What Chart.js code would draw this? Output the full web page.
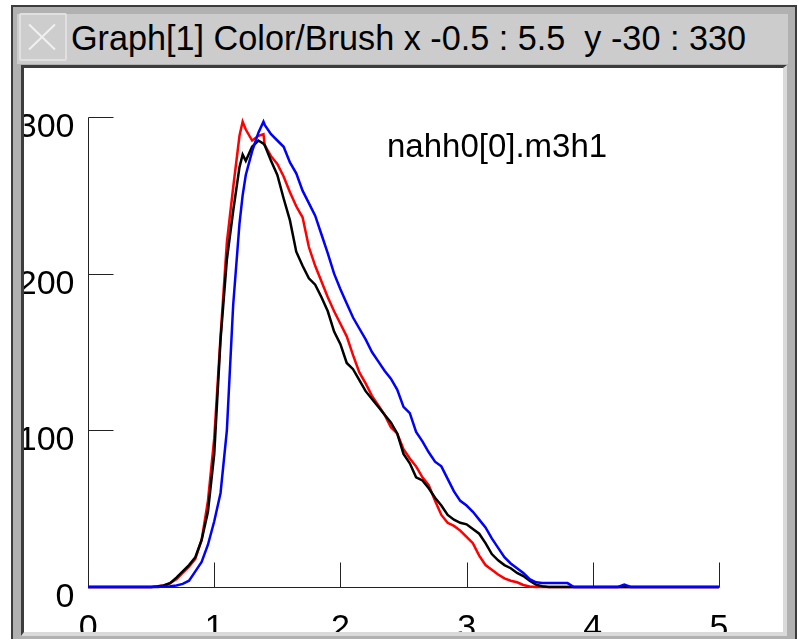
<!DOCTYPE html>
<html>
<head>
<meta charset="utf-8">
<script src="https://cdn.jsdelivr.net/npm/chart.js@4"></script>
<style>
  html, body { margin: 0; padding: 0; background: #ffffff; }
  body { width: 798px; height: 639px; position: relative; overflow: hidden; }
  #frame {
    position: absolute; left: 11px; top: 5px; width: 782px; height: 660px;
    background: #b1b1b1; border: 2px solid #3c3c3c;
  }
  #titlebar {
    position: absolute; left: 17px; top: 14px; width: 771px; height: 50px;
    background: #cccccc;
  }
  #closebox {
    position: absolute; left: 19px; top: 13px; width: 44px; height: 44px;
    background: #cdcdcd; border: 2px solid #e0e0e0; border-radius: 2px;
  }
  .xbar {
    position: absolute; left: 42px; top: 37px; width: 36px; height: 2px;
    margin-left: -18px; margin-top: -1px; background: #f0f0f0;
  }
  #title {
    position: absolute; left: 71px; top: 20px; white-space: nowrap;
    font-family: 'Liberation Sans', Arial, sans-serif;
    font-size: 35px; line-height: 35px; color: #000;
    transform-origin: left top;
  }
  #panel {
    position: absolute; left: 21px; top: 65px; width: 759px; height: 564px;
    border-top: 3px solid #3c3c3c; border-left: 3px solid #3c3c3c;
    border-right: 4px solid #dadada; border-bottom: 4px solid #dadada;
    background: #ffffff; overflow: hidden;
  }
  #chart { position: absolute; left: 0; top: 0; display: block; }
</style>
</head>
<body>
<div id="frame"></div>
<div id="titlebar"></div>
<div id="closebox"></div>
<div class="xbar" style="transform: rotate(44deg)"></div>
<div class="xbar" style="transform: rotate(-44deg)"></div>
<div id="title">Graph[1] Color/Brush x -0.5 : 5.5&nbsp; y -30 : 330</div>
<div id="panel"><canvas id="chart" width="759" height="570"></canvas></div>

<script>
// histogram bins (x = bin position)
const xValues = [
  0, 0.5, 0.55, 0.6, 0.65, 0.7, 0.75, 0.8, 0.85, 0.9,
  0.95, 1.0, 1.05, 1.1, 1.15, 1.2, 1.225, 1.25, 1.3, 1.35,
  1.39, 1.4, 1.45, 1.5, 1.55, 1.6, 1.65, 1.7, 1.75, 1.8,
  1.85, 1.9, 1.95, 2.0, 2.05, 2.1, 2.15, 2.2, 2.25, 2.3,
  2.35, 2.4, 2.45, 2.5, 2.55, 2.6, 2.65, 2.7, 2.75, 2.8,
  2.85, 2.9, 2.95, 3.0, 3.05, 3.1, 3.15, 3.2, 3.25, 3.3,
  3.35, 3.4, 3.45, 3.5, 3.55, 3.6, 3.65, 3.7, 3.75, 3.8,
  3.85, 4.2, 4.25, 4.3, 5
];

const redCounts = [
  0, 0, 0.5, 1, 2.5, 5, 9, 13, 18, 30,
  55, 95, 160, 220, 255, 288, 297, 292, 285, 288,
  289, 282, 275, 270, 262, 252, 243, 236, 217, 205,
  195, 185, 176, 168, 160, 148, 137, 130, 122, 116,
  110, 102, 98, 88, 82, 77, 70, 65, 55, 46,
  41, 39, 36, 32, 28, 20, 14, 11, 8, 5.5,
  4, 3, 1.3, 0.3, 0, 0, 0, 0, 0, 0,
  0, 0, 0, 0, 0
];

const blackCounts = [
  0, 0, 0.3, 1, 2.5, 6, 10, 14, 19, 30,
  48, 85, 158, 209, 240, 268, 276, 272, 281, 285,
  283, 282, 272, 263, 248, 234, 214, 205, 197, 193,
  185, 176, 163, 155, 143, 139, 132, 125, 120, 115,
  110, 105, 98, 85, 79, 70, 68, 63, 57, 52,
  46, 43, 41, 40, 37, 34, 28, 21, 17, 14,
  12, 9, 7, 4, 1.5, 0.5, 0, 0, 0, 0,
  0, 0, 0, 0, 0
];

const blueCounts = [
  0, 0, 0, 0.3, 0.5, 1, 2, 4, 10, 16,
  27, 42, 60, 100, 180, 232, 250, 263, 278, 290,
  297, 295, 289, 285, 281, 271, 264, 253, 245, 237,
  225, 213, 200, 190, 181, 172, 165, 158, 150, 144,
  138, 133, 126, 115, 111, 99, 93, 86, 80, 77,
  69, 61, 55, 52, 48, 43, 38, 31, 25, 19,
  15, 12, 9, 5, 3, 2.5, 2.5, 2.5, 2.5, 2.5,
  0, 0, 1.5, 0, 0
];

const xTicks = [0, 1, 2, 3, 4, 5];
const xTickLabels = ['0', '1', '2', '3', '4', '5'];
const yTicks = [0, 100, 200, 300];
const yTickLabels = ['0', '100', '200', '300'];
const seriesName = 'nahh0[0].m3h1';

// fit the window title to the width it has in the original
(function () {
  const t = document.getElementById('title');
  const w = t.getBoundingClientRect().width;
  t.style.transform = 'scaleX(' + (675 / w) + ')';
})();

function toPoints(ys) {
  return xValues.map(function (x, i) { return { x: x, y: ys[i] }; });
}

// axes drawn only over 0..5 / 0..300, ticks pointing inward
const axesPlugin = {
  id: 'oldAxes',
  beforeDatasetsDraw: function (chart) {
    const ctx = chart.ctx;
    const xs = chart.scales.x;
    const ys = chart.scales.y;
    const x0 = Math.round(xs.getPixelForValue(0)) + 0.5;
    const x5 = Math.round(xs.getPixelForValue(5)) + 0.5;
    const y0 = Math.round(ys.getPixelForValue(0)) + 0.5;
    const yTop = Math.round(ys.getPixelForValue(300)) + 0.5;

    ctx.save();
    ctx.strokeStyle = '#222222';
    ctx.lineWidth = 1;
    ctx.beginPath();
    ctx.moveTo(x0, yTop);
    ctx.lineTo(x0, y0);
    ctx.lineTo(x5, y0);
    yTicks.forEach(function (v) {
      const py = Math.round(ys.getPixelForValue(v)) + 0.5;
      ctx.moveTo(x0, py);
      ctx.lineTo(x0 + 25, py);
    });
    xTicks.forEach(function (v) {
      const px = Math.round(xs.getPixelForValue(v)) + 0.5;
      ctx.moveTo(px, y0);
      ctx.lineTo(px, y0 - 25);
    });
    ctx.stroke();

    ctx.fillStyle = '#000000';
    ctx.font = '34px "Liberation Sans", Arial, sans-serif';
    ctx.textBaseline = 'alphabetic';
    ctx.textAlign = 'right';
    yTicks.forEach(function (v, i) {
      ctx.fillText(yTickLabels[i], x0 - 14, ys.getPixelForValue(v) + 20);
    });
    ctx.textAlign = 'center';
    xTicks.forEach(function (v, i) {
      ctx.fillText(xTickLabels[i], xs.getPixelForValue(v), y0 + 50);
    });

    ctx.textAlign = 'left';
    ctx.font = '33px "Liberation Sans", Arial, sans-serif';
    ctx.fillText(seriesName, chart.chartArea.left + 362, chart.chartArea.top + 87);
    ctx.restore();
  }
};

new Chart(document.getElementById('chart'), {
  type: 'line',
  data: {
    datasets: [
      { label: 'blue', data: toPoints(blueCounts), borderColor: '#0000ff', order: 0 },
      { label: 'black', data: toPoints(blackCounts), borderColor: '#000000', order: 1 },
      { label: 'red', data: toPoints(redCounts), borderColor: '#ff0000', order: 2 }
    ]
  },
  options: {
    responsive: false,
    animation: false,
    devicePixelRatio: 1,
    layout: { padding: { left: 1, right: 1, top: 2, bottom: 4 } },
    elements: {
      line: { borderWidth: 2.5, tension: 0, fill: false },
      point: { radius: 0 }
    },
    plugins: {
      legend: { display: false },
      tooltip: { enabled: false }
    },
    scales: {
      x: { type: 'linear', min: -0.5, max: 5.5, display: false },
      y: { type: 'linear', min: -30, max: 330, display: false }
    }
  },
  plugins: [axesPlugin]
});
</script>
</body>
</html>
